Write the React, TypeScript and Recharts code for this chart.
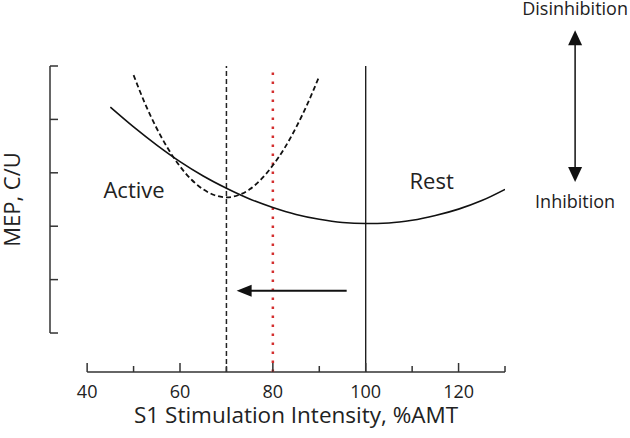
import React from 'react';
import { LineChart, Line, XAxis, YAxis, ReferenceLine, ReferenceDot } from 'recharts';

// ---- data ----
const restX = [45, 50, 55, 60, 65, 70, 75, 80, 85, 90, 95, 100, 105, 110, 115, 120, 125, 130];
const restY = [4.23, 3.86, 3.52, 3.21, 2.94, 2.71, 2.51, 2.35, 2.22, 2.13, 2.07, 2.05, 2.06, 2.11, 2.2, 2.32, 2.48, 2.69];

const activeX = [50, 52.5, 55, 57.5, 60, 62.5, 65, 67.5, 70, 72.5, 75, 77.5, 80, 82.5, 85, 87.5, 90];
const activeY = [4.83, 4.29, 3.83, 3.44, 3.12, 2.87, 2.69, 2.58, 2.54, 2.58, 2.69, 2.88, 3.14, 3.46, 3.85, 4.3, 4.81];

const xTicks = [40, 50, 60, 70, 80, 90, 100, 110, 120, 130];
const xMajorTicks = [40, 60, 80, 100, 120];
const yTicks = [0, 1, 2, 3, 4, 5];

const activeThreshold = 70; // dashed vertical
const shiftedThreshold = 80; // red dotted vertical
const restThreshold = 100; // solid vertical

const shiftArrow = { from: 95.9, to: 72.2, y: 0.79 };
const scaleArrow = { x: 145.1, top: 5.67, bottom: 2.83 };

const textLabels = [
  { text: 'Active', x: 50.1, y: 2.53, size: 22 },
  { text: 'Rest', x: 114.2, y: 2.69, size: 22 },
  { text: 'Disinhibition', x: 145.1, y: 5.955, size: 18 },
  { text: 'Inhibition', x: 145.1, y: 2.35, size: 18 },
];

const xAxisTitle = 'S1 Stimulation Intensity, %AMT';
const yAxisTitle = 'MEP, C/U';

const restData = restX.map((x, i) => ({ x, y: restY[i] }));
const activeData = activeX.map((x, i) => ({ x, y: activeY[i] }));

const FONT = '"Open Sans", "DejaVu Sans", sans-serif';
const AXIS = '#333';
const TEXT = '#222';

const XTick = (props: any) => {
  const { x, y, payload } = props;
  const major = xMajorTicks.includes(payload.value);
  return (
    <g>
      <line x1={x} x2={x} y1={y} y2={y - (major ? 9 : 6)} stroke={AXIS} strokeWidth={1.5} />
      {major && (
        <text x={x} y={y + 25.5} textAnchor="middle" fontFamily={FONT} fontSize={18} fill={TEXT}>
          {payload.value}
        </text>
      )}
    </g>
  );
};

const YTick = (props: any) => {
  const { x, y } = props;
  return <line x1={x} x2={x + 8} y1={y} y2={y} stroke={AXIS} strokeWidth={1.5} />;
};

export default function App() {
  return (
    <div style={{ position: 'absolute', left: 0, top: 0, width: 630, height: 438, background: '#fff' }}>
      <LineChart width={630} height={438} margin={{ top: 66, right: 125, bottom: 0, left: 49 }}>
        <XAxis
          type="number"
          dataKey="x"
          domain={[32, 130]}
          allowDataOverflow
          ticks={xTicks}
          interval={0}
          axisLine={false}
          tickLine={false}
          tickSize={0}
          tickMargin={0}
          height={66}
          tick={<XTick />}
        />
        <YAxis
          type="number"
          dataKey="y"
          domain={[-0.73, 5]}
          allowDataOverflow
          ticks={yTicks}
          interval={0}
          axisLine={false}
          tickLine={false}
          tickSize={0}
          tickMargin={0}
          width={1}
          tick={<YTick />}
        />

        {/* x axis line with title */}
        <ReferenceLine
          segment={[{ x: 40, y: -0.73 }, { x: 130, y: -0.73 }]}
          stroke={AXIS}
          strokeWidth={1.5}
          ifOverflow="visible"
          label={(p: any) => {
            const vb = p.viewBox;
            return (
              <text x={vb.x + vb.width / 2} y={vb.y + 50.5} textAnchor="middle" fontFamily={FONT} fontSize={22.5} fill={TEXT}>
                {xAxisTitle}
              </text>
            );
          }}
        />
        {/* y axis line with title */}
        <ReferenceLine
          segment={[{ x: 32, y: 0 }, { x: 32, y: 5 }]}
          stroke={AXIS}
          strokeWidth={1.5}
          ifOverflow="visible"
          label={(p: any) => {
            const vb = p.viewBox;
            const cy = vb.y + vb.height / 2;
            return (
              <text transform={`translate(${vb.x - 30}, ${cy}) rotate(-90)`} x={0} y={0} textAnchor="middle" fontFamily={FONT} fontSize={22} fill={TEXT}>
                {yAxisTitle}
              </text>
            );
          }}
        />

        <ReferenceLine x={activeThreshold} stroke="#222" strokeWidth={1.5} strokeDasharray="5 3" />
        <ReferenceLine x={shiftedThreshold} stroke="#d32f2f" strokeWidth={2.5} strokeDasharray="2.5 6.5" />
        <ReferenceLine x={restThreshold} stroke="#111" strokeWidth={1.3} />

        <Line data={restData} dataKey="y" type="monotone" stroke="#111" strokeWidth={1.6} dot={false} activeDot={false} isAnimationActive={false} />
        <Line data={activeData} dataKey="y" type="monotone" stroke="#111" strokeWidth={1.8} strokeDasharray="5 3" dot={false} activeDot={false} isAnimationActive={false} />

        {/* shift arrow */}
        <ReferenceLine segment={[{ x: shiftArrow.from, y: shiftArrow.y }, { x: shiftArrow.to + 2.5, y: shiftArrow.y }]} stroke="#111" strokeWidth={2} />
        <ReferenceDot
          x={shiftArrow.to}
          y={shiftArrow.y}
          r={0}
          ifOverflow="visible"
          shape={(p: any) => (
            <polygon points={`${p.cx},${p.cy} ${p.cx + 15},${p.cy - 6} ${p.cx + 15},${p.cy + 6}`} fill="#111" />
          )}
        />

        {/* disinhibition / inhibition arrow */}
        <ReferenceLine
          segment={[{ x: scaleArrow.x, y: scaleArrow.top - 0.1 }, { x: scaleArrow.x, y: scaleArrow.bottom + 0.1 }]}
          stroke="#111"
          strokeWidth={1.5}
          ifOverflow="visible"
        />
        <ReferenceDot
          x={scaleArrow.x}
          y={scaleArrow.top}
          r={0}
          ifOverflow="visible"
          shape={(p: any) => (
            <polygon points={`${p.cx},${p.cy} ${p.cx - 7},${p.cy + 15} ${p.cx + 7},${p.cy + 15}`} fill="#111" />
          )}
        />
        <ReferenceDot
          x={scaleArrow.x}
          y={scaleArrow.bottom}
          r={0}
          ifOverflow="visible"
          shape={(p: any) => (
            <polygon points={`${p.cx},${p.cy} ${p.cx - 7},${p.cy - 15} ${p.cx + 7},${p.cy - 15}`} fill="#111" />
          )}
        />

        {textLabels.map((t) => (
          <ReferenceDot
            key={t.text}
            x={t.x}
            y={t.y}
            r={0}
            ifOverflow="visible"
            shape={(p: any) => (
              <text x={p.cx} y={p.cy} textAnchor="middle" fontFamily={FONT} fontSize={t.size} fill={TEXT}>
                {t.text}
              </text>
            )}
          />
        ))}
      </LineChart>
    </div>
  );
}
